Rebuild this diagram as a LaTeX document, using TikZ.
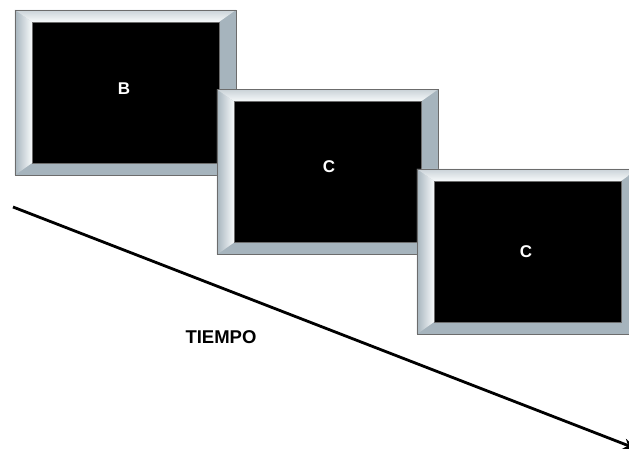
\documentclass[tikz,border=0pt]{standalone}
\usepackage{fontspec}
\setmainfont{Liberation Sans}
\usetikzlibrary{arrows.meta}
\definecolor{marcogris}{RGB}{166,180,189}
\definecolor{marcoclaro}{RGB}{246,249,250}
\begin{document}
\begin{tikzpicture}[x=1pt,y=-1pt,
    marco/.style={fill=marcogris, minimum width=221pt, minimum height=165pt, inner sep=0pt},
    pantalla/.style={fill=black, minimum width=187pt, minimum height=141pt, inner sep=0pt},
    borde/.style={draw=gray!85!black, line width=0.5pt},
    letra/.style={text=white, font=\bfseries\fontsize{17}{17}\selectfont, inner sep=0pt},
    tiempo/.style={-{Stealth[length=14pt,width=11pt]}, line width=2.8pt}]
\useasboundingbox (0,0) rectangle (629,449);

% time axis
\coordinate (T0) at (13,207);
\coordinate (T1) at (637,449);
\draw[tiempo] (T0) -- (T1);
\node[font=\bfseries\fontsize{18.5}{18.5}\selectfont] (TI) at (221,337) {TIEMPO};

% the three screens, each one over the one before
\foreach \n/\cx/\cy in {1/125.5/92.5, 2/327.5/172, 3/527.5/251.5} {
    \node[marco] (M\n) at (\cx,\cy) {};
    \node[pantalla] (P\n) at (\cx,\cy) {};
    % bevel of the frame
    \shade[left color=marcogris, right color=marcoclaro]
        (M\n.north west) -- (P\n.north west) -- (P\n.south west) -- (M\n.south west) -- cycle;
    \shade[top color=marcogris!60!white, bottom color=marcoclaro]
        (M\n.north west) -- (M\n.north east) -- (P\n.north east) -- (P\n.north west) -- cycle;
    \draw[borde] (M\n.north west) rectangle (M\n.south east);
    \draw[borde] (P\n.north west) rectangle (P\n.south east);
}

\node[letra] (L1) at (124,89) {B};
\node[letra] (L2) at (329,167) {C};
\node[letra] (L3) at (526,252) {C};
\end{tikzpicture}
\end{document}
